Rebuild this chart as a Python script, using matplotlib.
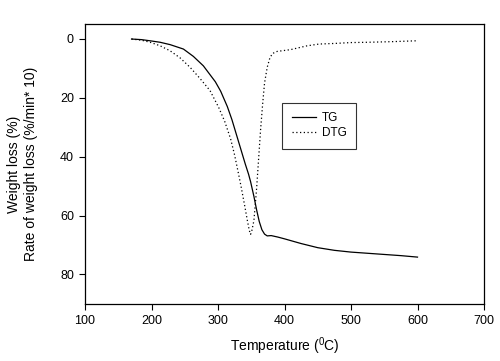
import matplotlib
matplotlib.use("Agg")
import matplotlib.pyplot as plt

# TG curve (weight loss, %)
tg_temp = [170, 185, 198, 213, 228, 248, 263, 278, 290, 296, 304, 314, 321,
           329, 335, 341, 346, 349, 354, 358, 362, 366, 370, 374, 380, 390,
           400, 425, 450, 475, 500, 525, 550, 575, 600]
tg_loss = [0.1, 0.3, 0.7, 1.2, 2.0, 3.5, 6.0, 9.2, 12.8, 14.6, 17.8, 23.0,
           27.5, 33.5, 38.0, 42.5, 46.0, 48.5, 53.5, 58.0, 62.0, 64.8, 66.3,
           66.9, 66.8, 67.3, 67.9, 69.5, 70.9, 71.8, 72.4, 72.8, 73.2, 73.6,
           74.1]

# DTG curve (rate of weight loss, %/min*10)
dtg_temp = [170, 185, 198, 213, 228, 243, 258, 273, 288, 301, 310, 319, 325,
            331, 335, 340, 344, 347, 349, 351, 354, 358, 361, 364, 367, 370,
            374, 378, 382, 389, 409, 434, 452, 475, 500, 525, 560, 598]
dtg_rate = [0.1, 0.5, 1.2, 2.4, 4.1, 6.5, 9.7, 13.5, 17.6, 23.3, 28.0, 34.0,
            39.5, 46.0, 50.5, 56.5, 61.5, 65.0, 66.4, 65.0, 61.7, 51.0, 41.0,
            31.0, 22.5, 15.0, 9.7, 6.5, 5.0, 4.3, 3.7, 2.4, 1.8, 1.6, 1.3,
            1.2, 1.0, 0.7]

x_ticks = [100, 200, 300, 400, 500, 600, 700]
y_ticks = [0, 20, 40, 60, 80]

plt.rcParams["font.family"] = ["Liberation Sans", "DejaVu Sans"]

fig = plt.figure(figsize=(5.0, 3.61), dpi=100)
ax = fig.add_axes([0.17, 0.158, 0.798, 0.7755])

ax.plot(tg_temp, tg_loss, color="black", linewidth=0.9, label="TG")
ax.plot(dtg_temp, dtg_rate, color="black", linewidth=0.9,
        linestyle=(0, (1, 2)), label="DTG")

ax.set_xlim(100, 700)
ax.set_ylim(90, -5)
ax.set_xticks(x_ticks)
ax.set_yticks(y_ticks)
ax.tick_params(direction="out", length=4, width=0.8, labelsize=9,
               top=False, right=False, pad=4)
for sp in ax.spines.values():
    sp.set_linewidth(0.9)

ax.set_xlabel("Temperature ($\\mathregular{^0}$C)", fontsize=10, labelpad=6)
ax.set_ylabel("Weight loss (%)\nRate of weight loss (%/min* 10)",
              fontsize=10, labelpad=16)

leg = ax.legend(loc="upper left", bbox_to_anchor=(0.494, 0.718),
                borderaxespad=0, fontsize=8.5, frameon=True, fancybox=False,
                handlelength=2.1, borderpad=0.8, labelspacing=0.25,
                handletextpad=0.45)
leg.get_frame().set_edgecolor("black")
leg.get_frame().set_linewidth(0.8)

fig.savefig("out.png", dpi=100)
